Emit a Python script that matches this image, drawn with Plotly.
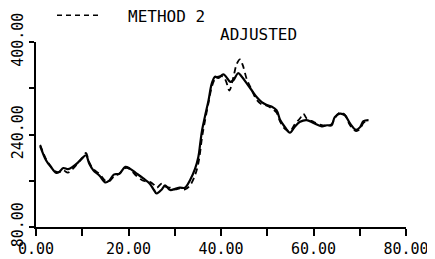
import plotly.graph_objects as go

# Solid curve
x_solid = [0.9, 2.2, 3.2, 4.3, 5.0, 5.9, 6.9, 7.9, 9.0, 10.1, 10.8, 11.5, 12.4, 13.7, 15.0, 15.8,
           16.9, 18.0, 19.3, 20.3, 21.5, 23.2, 24.6, 25.5, 26.1, 27.2, 27.9, 29.0, 30.1, 31.1,
           32.2, 33.3, 34.4, 35.1, 35.5, 35.9, 36.5, 37.3, 38.0, 38.7, 39.4, 40.5, 41.1, 42.0,
           42.7, 43.7, 44.5, 45.6, 46.6, 47.7, 48.8, 49.9, 51.0, 52.0, 52.8, 53.8, 54.9, 56.0,
           57.1, 58.5, 60.0, 61.8, 62.9, 63.9, 64.6, 65.7, 66.8, 67.9, 69.2, 70.1, 70.8, 71.9]
y_solid = [220, 195, 184, 174, 175, 182, 180, 184, 191, 200, 204, 190, 178, 169, 157, 160,
           171, 172, 184, 181, 174, 164, 155, 144, 138, 145, 152, 144, 146, 148,
           148, 161, 181, 201, 224, 247, 270, 299, 328, 340, 338, 344, 340, 331,
           334, 346, 340, 328, 317, 305, 296, 291, 288, 282, 265, 253, 243, 254,
           262, 265, 260, 254, 256, 256, 270, 276, 273, 259, 248, 253, 263, 265]

# Dashed curve (METHOD 2)
x_dash = [0.9, 2.2, 3.2, 4.3, 5.0, 5.9, 6.9, 7.9, 9.0, 10.1, 10.8, 11.5, 12.4, 13.7, 15.0, 15.8,
          16.9, 18.0, 19.3, 20.3, 21.5, 23.2, 24.6, 25.5, 26.1, 27.2, 27.9, 29.0, 30.1, 31.1,
          32.2, 33.3, 34.4, 35.1, 35.5, 35.9, 36.5, 37.3, 38.0, 38.7, 39.4, 40.5, 41.1, 41.8,
          42.7, 43.4, 44.1, 44.7, 45.6, 46.6, 47.7, 48.8, 49.9, 51.0, 52.0, 52.8, 53.8, 54.9,
          56.0, 57.1, 57.8, 58.5, 60.0, 61.8, 62.9, 63.9, 64.6, 65.7, 66.8, 67.9, 69.2, 70.1,
          70.8, 71.9]
y_dash = [222, 197, 185, 176, 175, 178, 174, 180, 190, 200, 208, 192, 180, 172, 160, 159,
          168, 172, 182, 180, 170, 160, 158, 153, 148, 155, 150, 148, 145, 147,
          145, 152, 170, 190, 210, 235, 262, 295, 322, 336, 340, 340, 332, 316,
          340, 362, 370, 360, 335, 318, 300, 292, 290, 285, 278, 262, 250, 246,
          258, 268, 276, 268, 262, 256, 256, 258, 268, 278, 274, 256, 246, 250,
          260, 265]

x_tickvals = [0, 10, 20, 30, 40, 50, 60, 70, 80]
x_ticktext = ["0.00", "", "20.00", "", "40.00", "", "60.00", "", "80.00"]
y_tickvals = [80, 160, 240, 320, 400]
y_ticktext = ["80.00", "", "240.00", "", "400.00"]

FONT = "DejaVu Sans Mono"

fig = go.Figure()
fig.add_trace(go.Scatter(x=x_dash, y=y_dash, mode="lines", line_shape="spline",
                         line=dict(color="black", width=1.8, dash="6px,4px"),
                         showlegend=False))
fig.add_trace(go.Scatter(x=x_solid, y=y_solid, mode="lines", line_shape="spline",
                         line=dict(color="black", width=2.2),
                         showlegend=False))

# page body has an 8px default margin; figure sized to fit the 435x259 window
fig.update_layout(
    width=427, height=251,
    margin=dict(l=28, r=29, t=34, b=32),
    paper_bgcolor="white", plot_bgcolor="white",
    font=dict(family=FONT, size=15, color="black"),
    xaxis=dict(range=[0, 80], tickvals=x_tickvals, ticktext=x_ticktext, automargin=False,
               showgrid=False, zeroline=False, showline=True, linecolor="black",
               linewidth=1.5, ticks="outside", ticklen=7, tickwidth=1.5, tickcolor="black",
               tickfont=dict(family=FONT, size=15)),
    yaxis=dict(range=[80, 400], tickvals=y_tickvals, ticktext=y_ticktext, automargin=False,
               showgrid=False, zeroline=False, showline=True, linecolor="black",
               linewidth=1.5, ticks="outside", ticklen=5, tickwidth=1.5, tickcolor="black",
               tickangle=-90, tickfont=dict(family=FONT, size=15)),
    shapes=[dict(type="line", xref="paper", yref="paper",
                 x0=(57 - 36) / 370, x1=(100 - 36) / 370,
                 y0=(226.7 - 15) / 185, y1=(226.7 - 15) / 185,
                 line=dict(color="black", width=1.5, dash="5px,4px"))],
    annotations=[
        dict(text="METHOD 2", xref="paper", yref="paper",
             x=(126 - 36) / 370, y=(226.7 - 16) / 185, xanchor="left", yanchor="middle",
             showarrow=False, font=dict(family=FONT, size=16)),
        dict(text="ADJUSTED", xref="paper", yref="paper",
             x=(218 - 36) / 370, y=(226.7 - 34) / 185, xanchor="left", yanchor="middle",
             showarrow=False, font=dict(family=FONT, size=16)),
    ],
)

fig.write_html("out.html")
